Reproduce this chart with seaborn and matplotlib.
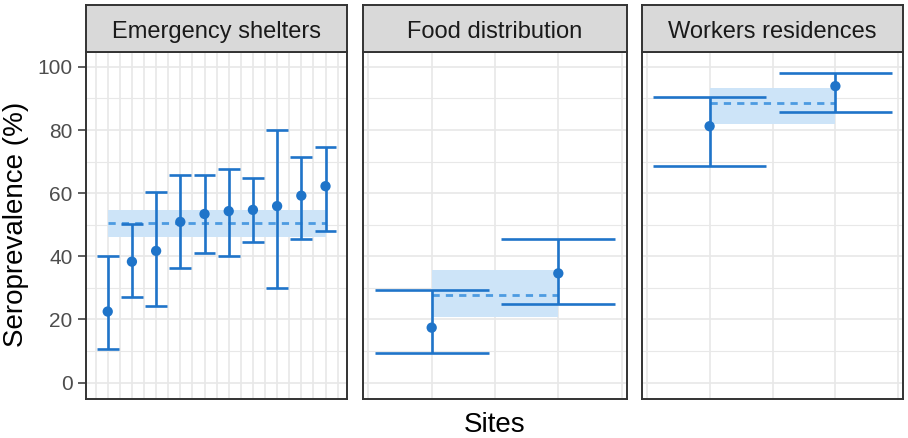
import numpy as np
import pandas as pd
import matplotlib
matplotlib.use("Agg")
import matplotlib.pyplot as plt
import seaborn as sns

# ---------------- data ----------------
facets = ["Emergency shelters", "Food distribution", "Workers residences"]

es_est = [22.5, 38.3, 41.7, 50.9, 53.4, 54.3, 54.7, 55.9, 59.2, 62.2]
es_lo = [10.6, 27.2, 24.4, 36.2, 40.9, 40.2, 44.6, 29.9, 45.4, 48.0]
es_hi = [40.1, 50.1, 60.4, 65.7, 65.7, 67.5, 64.7, 80.0, 71.5, 74.7]

fd_est = [17.4, 34.6]
fd_lo = [9.3, 24.9]
fd_hi = [29.3, 45.4]

wr_est = [81.2, 93.9]
wr_lo = [68.6, 85.8]
wr_hi = [90.3, 98.1]

pooled_est = [50.6, 27.8, 88.4]
pooled_lo = [46.2, 20.7, 81.9]
pooled_hi = [54.7, 35.7, 93.2]

y_ticks = [0, 20, 40, 60, 80, 100]
y_label = "Seroprevalence (%)"
x_label = "Sites"

# ---------------- build table ----------------
rows = []
for fac, est, lo, hi in zip(facets, [es_est, fd_est, wr_est],
                            [es_lo, fd_lo, wr_lo], [es_hi, fd_hi, wr_hi]):
    for i, (e, l, h) in enumerate(zip(est, lo, hi), start=1):
        rows.append(dict(facet=fac, site=i, est=e, lo=l, hi=h))
df = pd.DataFrame(rows)

# ---------------- style ----------------
sns.set_theme(style="white")
plt.rcParams["font.family"] = ["Liberation Sans", "DejaVu Sans"]
plt.rcParams["lines.scale_dashes"] = False

BLUE = "#1f74c9"
BAND = "#cde4f8"
DASH = "#4d9be1"
GRID = "#e8e8e8"
DARK = "#333333"

W, H = 908, 438
fig = plt.figure(figsize=(W / 100, H / 100), dpi=100)

panel_px = [(85.7, 347.3), (363.3, 626.7), (641.7, 903.3)]
top_px, bot_px = 51.7, 399.0
strip_top_px = 4.7
xlims = [(0.09, 10.9), (0.46, 2.54), (0.46, 2.54)]
ylim = (-5.2, 104.8)


def frac_rect(l, r, t, b):
    return [l / W, 1 - b / H, (r - l) / W, (b - t) / H]


for k, fac in enumerate(facets):
    l, r = panel_px[k]
    ax = fig.add_axes(frac_rect(l, r, top_px, bot_px))
    sub = df[df.facet == fac]
    n = len(sub)

    ax.set_xlim(*xlims[k])
    ax.set_ylim(*ylim)

    # grid
    ax.set_xticks(np.arange(0.5, n + 0.51, 0.5))
    ax.set_yticks(y_ticks)
    ax.set_yticks([10, 30, 50, 70, 90], minor=True)
    ax.grid(True, which="major", axis="both", color=GRID, lw=1.2, zorder=0)
    ax.grid(True, which="minor", axis="y", color=GRID, lw=0.8, zorder=0)
    ax.set_axisbelow(True)

    # pooled band + dashed line
    ax.fill_between([1, n], [pooled_lo[k]] * 2, [pooled_hi[k]] * 2,
                    color=BAND, lw=0, zorder=1)
    sns.lineplot(x=[1, n], y=[pooled_est[k]] * 2, ax=ax, color=DASH,
                 lw=2.0, zorder=2, legend=False)
    ax.lines[-1].set_linestyle((0, (5.2, 4.4)))

    # error bars
    ax.vlines(sub.site, sub.lo, sub.hi, color=BLUE, lw=1.9, zorder=3)
    ax.hlines(sub.lo, sub.site - 0.45, sub.site + 0.45, color=BLUE, lw=1.9, zorder=3)
    ax.hlines(sub.hi, sub.site - 0.45, sub.site + 0.45, color=BLUE, lw=1.9, zorder=3)
    sns.scatterplot(data=sub, x="site", y="est", ax=ax, color=BLUE, s=55,
                    marker="o", edgecolor="none", zorder=4, legend=False)

    ax.set_xlabel("")
    ax.set_ylabel("")
    ax.tick_params(axis="x", length=0, labelbottom=False)
    ax.tick_params(axis="y", which="minor", length=0)
    if k == 0:
        ax.tick_params(axis="y", which="major", length=5.5, width=1.1,
                       color=DARK, labelsize=15, labelcolor="#4d4d4d", pad=4,
                       left=True)
        ax.set_yticklabels([str(t) for t in y_ticks])
    else:
        ax.tick_params(axis="y", which="major", length=0, labelleft=False)
    for sp in ax.spines.values():
        sp.set_color(DARK)
        sp.set_linewidth(1.4)
        sp.set_visible(True)

    # strip
    sax = fig.add_axes(frac_rect(l, r, strip_top_px, top_px))
    sax.set_facecolor("#d9d9d9")
    sax.set_xticks([])
    sax.set_yticks([])
    for sp in sax.spines.values():
        sp.set_color(DARK)
        sp.set_linewidth(1.4)
        sp.set_visible(True)
    sax.text(0.5, 0.285, fac, transform=sax.transAxes, ha="center",
             va="baseline", fontsize=17, color="#1a1a1a")

fig.text(16 / W, 1 - 224 / H, y_label, rotation=90, ha="center", va="center",
         fontsize=20, color="black")
fig.text(495 / W, 1 - 432 / H, x_label, ha="center", va="baseline",
         fontsize=20, color="black")

fig.savefig("out.png", dpi=100)
